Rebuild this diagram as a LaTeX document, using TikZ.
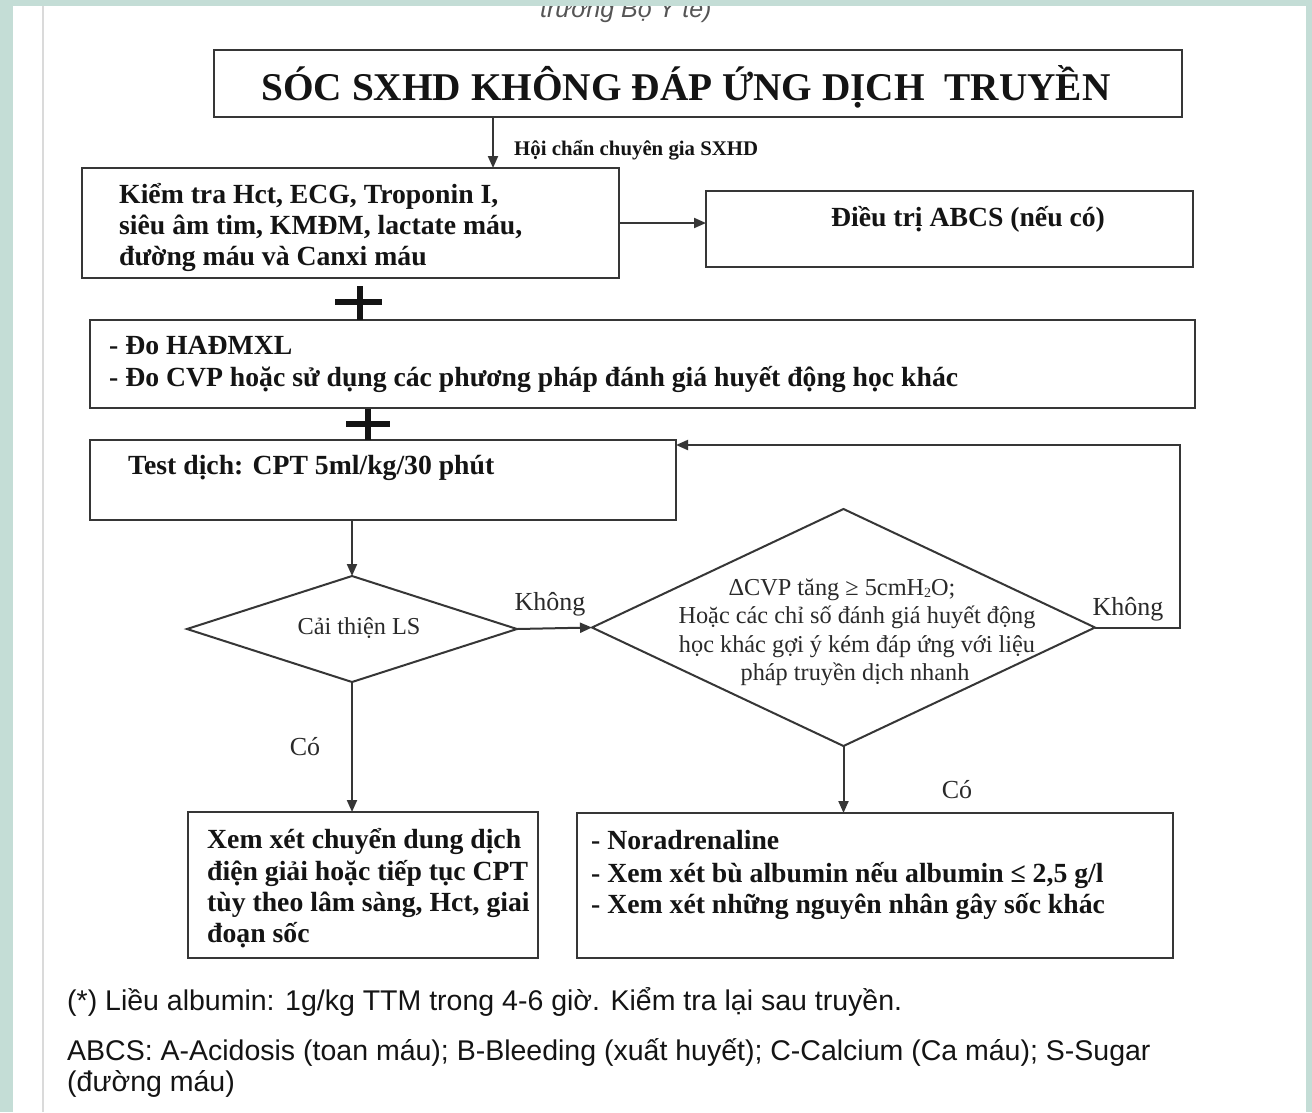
\documentclass[tikz,border=0pt]{standalone}
\usepackage{fontspec}
\setmainfont{Liberation Serif}
\newfontfamily\notefont{Liberation Sans}
\usetikzlibrary{shapes.geometric,arrows.meta}
\definecolor{band}{HTML}{C4DDD6}
\definecolor{ink}{HTML}{141414}
\definecolor{edge}{HTML}{363636}
\definecolor{rule}{HTML}{DADADA}
\definecolor{soft}{HTML}{2A2A2A}
\definecolor{capgrey}{HTML}{555555}
\newcommand{\subtwo}{\raisebox{-0.25ex}{\fontsize{14}{14}\selectfont 2}}
\begin{document}
\begin{tikzpicture}[x=1pt,y=-1pt,
  box/.style={draw=edge, line width=2.8pt, rectangle, inner sep=0pt, outer sep=0pt},
  dia/.style={draw=edge, line width=2pt, diamond, inner sep=0pt, outer sep=0pt},
  flow/.style={draw=edge, line width=2pt, -{Triangle[length=12pt,width=10pt]}},
  plusbar/.style={draw=ink, line width=5.5pt},
  bt/.style={font=\bfseries\fontsize{27.7}{27.7}\selectfont, text=ink, inner sep=0pt, anchor=base west},
  rt/.style={font=\fontsize{24.3}{24.3}\selectfont, text=soft, inner sep=0pt, anchor=base},
  lab/.style={font=\fontsize{26}{26}\selectfont, text=soft, inner sep=0pt, anchor=base},
  note/.style={font=\notefont\fontsize{28.5}{28.5}\selectfont, text=ink, inner sep=0pt, anchor=base west}]
\useasboundingbox (0,0) rectangle (1312,1112);
\fill[white] (0,0) rectangle (1312,1112);

% caption of the page above, cut by the frame
\node[font=\notefont\itshape\fontsize{25}{25}\selectfont, text=capgrey, inner sep=0pt, anchor=base west] (captop) at (540,17) {trường Bộ Y tế)};

% page frame
\fill[band] (0,0) rectangle (13,1112);
\fill[band] (1306,0) rectangle (1312,1112);
\fill[band] (0,0) rectangle (1312,6);
\fill[rule] (42,6) rectangle (44,1112);

% title
\node[box, minimum width=968, minimum height=67] (title) at (698,83.5) {};
\node[font=\bfseries\fontsize{39.3}{40}\selectfont, text=ink, inner sep=0pt, anchor=base] (titlet) at (686,100) {SÓC SXHD KHÔNG ĐÁP ỨNG DỊCH\ \ TRUYỀN};

% checks
\node[box, minimum width=537, minimum height=110] (b2) at (350.5,223) {};
\node[bt] (b2a) at (119,203) {Kiểm tra Hct, ECG, Troponin I,};
\node[bt] (b2b) at (119,234) {siêu âm tim, KMĐM, lactate máu,};
\node[bt] (b2c) at (119,265) {đường máu và Canxi máu};

\node[box, minimum width=487, minimum height=76] (b3) at (949.5,229) {};
\node[bt, anchor=base] (b3a) at (968,226) {Điều trị ABCS (nếu có)};

% monitoring
\node[box, minimum width=1105, minimum height=88] (b4) at (642.5,364) {};
\node[bt] (b4a) at (109,354) {- Đo HAĐMXL};
\node[bt] (b4b) at (109,386) {- Đo CVP hoặc sử dụng các phương pháp đánh giá huyết động học khác};

% fluid test
\node[box, minimum width=586, minimum height=80] (b5) at (383,480) {};
\node[bt] (b5a) at (128,474) {Test dịch: CPT 5ml/kg/30 phút};

% decisions
\node[dia, minimum width=330, minimum height=106] (d1) at (352,629) {};
\node[rt] (d1t) at (359,634) {Cải thiện LS};

\node[dia, minimum width=503, minimum height=237] (d2) at (843.5,627.5) {};
\node[rt] (d2a) at (842,595) {ΔCVP tăng ≥ 5cmH\subtwo O;};
\node[rt] (d2b) at (857,623) {Hoặc các chỉ số đánh giá huyết động};
\node[rt] (d2c) at (857,652) {học khác gợi ý kém đáp ứng với liệu};
\node[rt] (d2d) at (855,680) {pháp truyền dịch nhanh};

% outcomes
\node[box, minimum width=350, minimum height=146] (b6) at (363,885) {};
\node[bt] (b6a) at (207,848) {Xem xét chuyển dung dịch};
\node[bt] (b6b) at (207,880) {điện giải hoặc tiếp tục CPT};
\node[bt] (b6c) at (207,911) {tùy theo lâm sàng, Hct, giai};
\node[bt] (b6d) at (207,942) {đoạn sốc};

\node[box, minimum width=596, minimum height=145] (b7) at (875,885.5) {};
\node[bt] (b7a) at (591,849) {- Noradrenaline};
\node[bt] (b7b) at (591,882) {- Xem xét bù albumin nếu albumin ≤ 2,5 g/l};
\node[bt] (b7c) at (591,913) {- Xem xét những nguyên nhân gây sốc khác};

% plus signs joining the steps
\draw[plusbar] (335,302) -- (382,302);
\draw[plusbar] (360,286) -- (360,320);
\draw[plusbar] (346,424) -- (390,424);
\draw[plusbar] (368,409) -- (368,440);

% connectors
\coordinate (x1) at (493,0);
\draw[flow] (title.south -| x1) -- (b2.north -| x1);
\node[font=\bfseries\fontsize{20.8}{20.8}\selectfont, text=ink, inner sep=0pt, anchor=base west] (consult) at (514,155) {Hội chẩn chuyên gia SXHD};

\draw[flow] (b2.east) -- (b2.east -| b3.west);
\draw[flow] (b5.south -| d1.north) -- (d1.north);
\draw[flow] (d1.east) -- (d2.west);
\node[lab] (no1) at (550,610) {Không};

\coordinate (loop) at (1180,445);
\draw[flow] (d2.east) -| (loop) -- (b5.east |- loop);
\node[lab] (no2) at (1128,615) {Không};

\draw[flow] (d1.south) -- (d1.south |- b6.north);
\node[lab] (yes1) at (305,755) {Có};
\draw[flow] (d2.south) -- (d2.south |- b7.north);
\node[lab] (yes2) at (957,798) {Có};

% notes
\node[note] (n1) at (67,1010) {(*) Liều albumin: 1g/kg TTM trong 4-6 giờ. Kiểm tra lại sau truyền.};
\node[note] (n2) at (67,1060) {ABCS: A-Acidosis (toan máu); B-Bleeding (xuất huyết); C-Calcium (Ca máu); S-Sugar};
\node[note] (n3) at (67,1091) {(đường máu)};
\end{tikzpicture}
\end{document}
